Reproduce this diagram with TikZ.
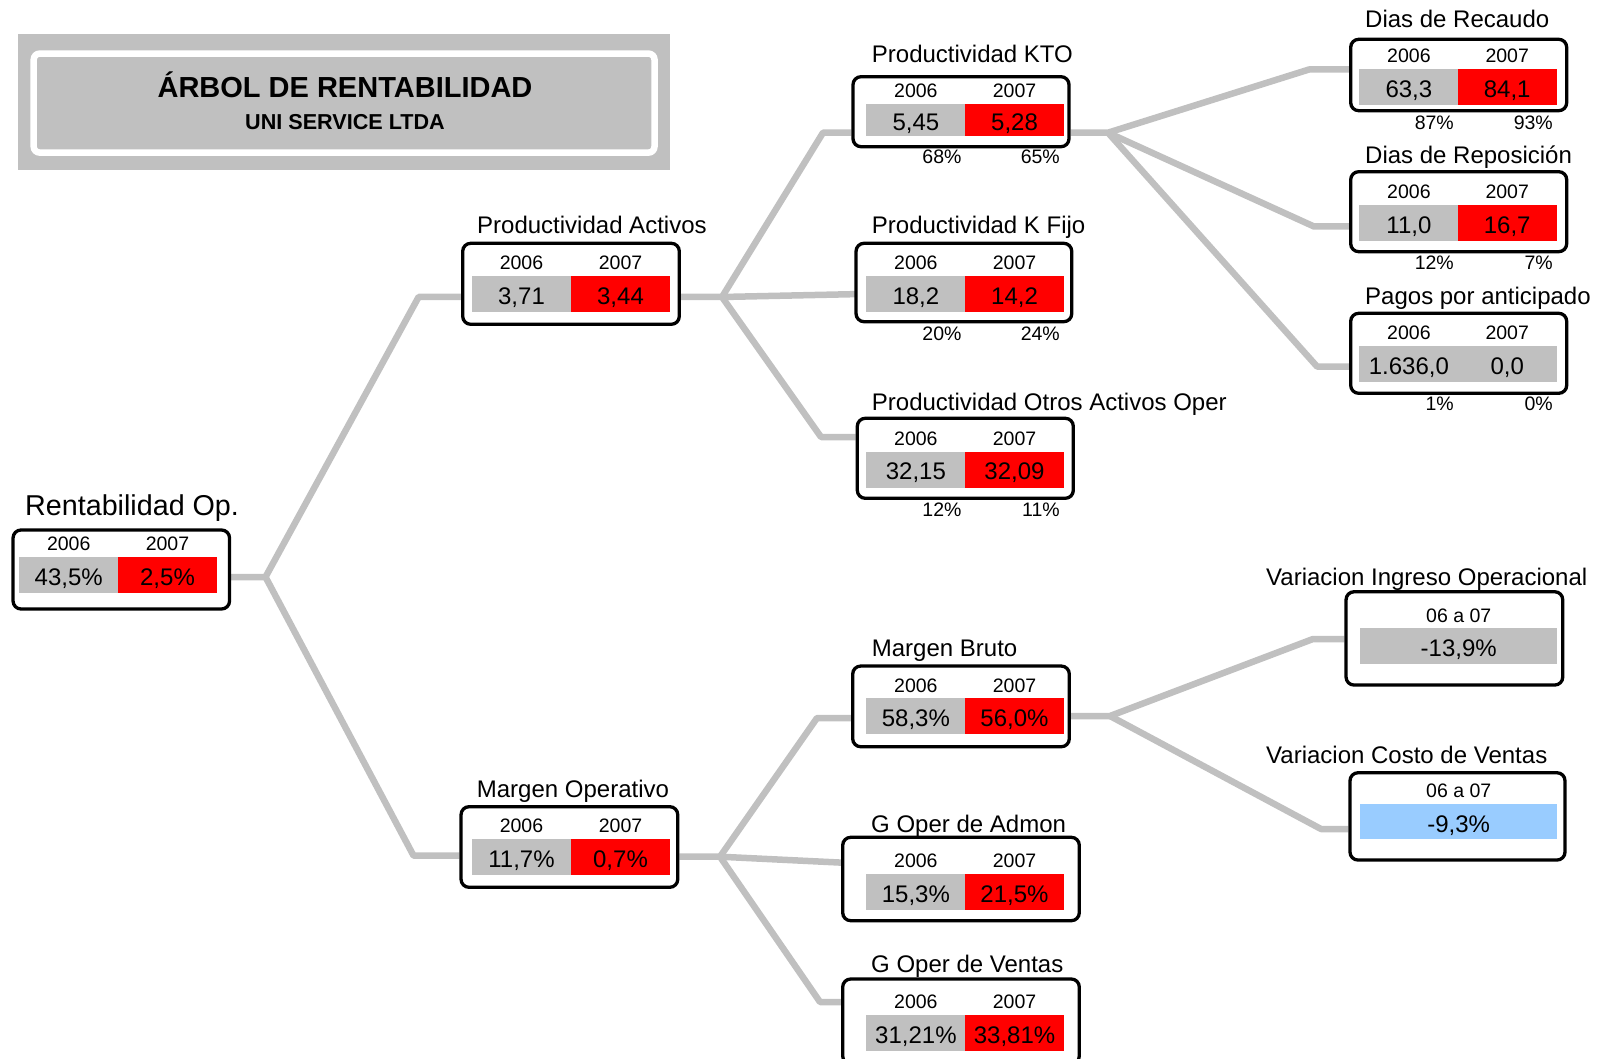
\documentclass[tikz,border=0pt]{standalone}
\usepackage{fontspec}
\setmainfont{Liberation Sans}
\usepackage{tikz}
\usetikzlibrary{positioning, calc, backgrounds}

\definecolor{gris}{HTML}{C0C0C0}
\definecolor{rojo}{HTML}{FF0000}
\definecolor{azul}{HTML}{99CCFF}

\begin{document}
\begin{tikzpicture}[x=1pt, y=-1pt,
  caja/.style={draw, line width=3.3pt, rounded corners=8pt, fill=white, inner sep=0pt},
  celda/.style={inner sep=0pt, minimum height=36pt, minimum width=99pt, text height=20.6pt, text depth=0pt, font=\fontsize{24}{24}\selectfont},
  anio/.style={inner sep=0pt, yshift=13pt, text height=14pt, text depth=0pt, font=\fontsize{19.5}{19.5}\selectfont},
  pct/.style={inner sep=0pt, anchor=base east, font=\fontsize{19.5}{19.5}\selectfont},
  titulo/.style={inner sep=0pt, anchor=base west, font=\fontsize{24}{24}\selectfont},
  rama/.style={draw=gris, line width=6.5pt, line join=round}]
  \useasboundingbox (0,0) rectangle (1601,1059);
  % Encabezado
  \fill[gris] (18.4,33.7) rectangle (670,170.5);
  \draw[white, line width=6.5pt, rounded corners=6pt] (33.7,53.6) rectangle (654.5,152.6);
  \node[font=\bfseries\fontsize{29}{29}\selectfont, anchor=base, inner sep=0pt] (arbol) at (345,97.2) {ÁRBOL DE RENTABILIDAD};
  \node[font=\bfseries\fontsize{21.6}{21.6}\selectfont, anchor=base, inner sep=0pt] (empresa) at (345,129.2) {UNI SERVICE LTDA};
  % Rentabilidad operacional (raiz)
  \node[titulo, font=\fontsize{28.7}{28.7}\selectfont] (ro-t) at (25,515) {Rentabilidad Op.};
  \node[caja, minimum width=216.5pt, minimum height=79pt] (ro) at (121.3,569.5) {};
  \node[celda, fill=gris] (ro-a) at (68.7,574.7) {43,5\%};
  \node[celda, fill=rojo] (ro-b) at (167.5,574.7) {2,5\%};
  \node[anio] (ro-a0) at (ro-a.north) {2006};
  \node[anio] (ro-b0) at (ro-b.north) {2007};
  % Productividad activos
  \node[titulo] (pa-t) at (477,233.5) {Productividad Activos};
  \node[caja, minimum width=216.6pt, minimum height=81pt] (pa) at (571,283.8) {};
  \node[celda, fill=gris] (pa-a) at (521.5,293.9) {3,71};
  \node[celda, fill=rojo] (pa-b) at (620.5,293.9) {3,44};
  \node[anio] (pa-a0) at (pa-a.north) {2006};
  \node[anio] (pa-b0) at (pa-b.north) {2007};
  % Margen operativo
  \node[titulo] (mo-t) at (476.7,797.9) {Margen Operativo};
  \node[caja, minimum width=216.7pt, minimum height=80.6pt] (mo) at (569.4,847) {};
  \node[celda, fill=gris] (mo-a) at (521.5,857) {11,7\%};
  \node[celda, fill=rojo] (mo-b) at (620.5,857) {0,7\%};
  \node[anio] (mo-a0) at (mo-a.north) {2006};
  \node[anio] (mo-b0) at (mo-b.north) {2007};
  % Productividad KTO
  \node[titulo] (kto-t) at (871.7,62.6) {Productividad KTO};
  \node[caja, minimum width=216pt, minimum height=70pt] (kto) at (961,111.7) {};
  \node[celda, fill=gris, minimum height=32pt] (kto-a) at (915.9,120) {5,45};
  \node[celda, fill=rojo, minimum height=32pt] (kto-b) at (1014.5,120) {5,28};
  \node[anio] (kto-a0) at (kto-a.north) {2006};
  \node[anio] (kto-b0) at (kto-b.north) {2007};
  \node[pct] (kto-p1) at (961.7,163.7) {68\%};
  \node[pct] (kto-p2) at (1060,163.7) {65\%};
  % Productividad K fijo
  \node[titulo] (kf-t) at (871.7,233.6) {Productividad K Fijo};
  \node[caja, minimum width=215.7pt, minimum height=78.4pt] (kf) at (963.9,282.5) {};
  \node[celda, fill=gris] (kf-a) at (915.9,293.9) {18,2};
  \node[celda, fill=rojo] (kf-b) at (1014.5,293.9) {14,2};
  \node[anio] (kf-a0) at (kf-a.north) {2006};
  \node[anio] (kf-b0) at (kf-b.north) {2007};
  \node[pct] (kf-p1) at (961.7,340.3) {20\%};
  \node[pct] (kf-p2) at (1060,340.3) {24\%};
  % Productividad otros activos
  \node[titulo] (oa-t) at (871.7,410.3) {Productividad Otros Activos Oper};
  \node[caja, minimum width=216pt, minimum height=80pt] (oa) at (965.3,458.3) {};
  \node[celda, fill=gris] (oa-a) at (915.9,469.5) {32,15};
  \node[celda, fill=rojo] (oa-b) at (1014.5,469.5) {32,09};
  \node[anio] (oa-a0) at (oa-a.north) {2006};
  \node[anio] (oa-b0) at (oa-b.north) {2007};
  \node[pct] (oa-p1) at (961.7,516) {12\%};
  \node[pct] (oa-p2) at (1060,516) {11\%};
  % Margen bruto
  \node[titulo] (mb-t) at (871.7,656.9) {Margen Bruto};
  \node[caja, minimum width=216.6pt, minimum height=80.7pt] (mb) at (961,706.4) {};
  \node[celda, fill=gris] (mb-a) at (915.9,716.2) {58,3\%};
  \node[celda, fill=rojo] (mb-b) at (1014.5,716.2) {56,0\%};
  \node[anio] (mb-a0) at (mb-a.north) {2006};
  \node[anio] (mb-b0) at (mb-b.north) {2007};
  % Gastos operacionales de administracion
  \node[titulo] (ga-t) at (871,832.6) {G Oper de Admon};
  \node[caja, minimum width=236.6pt, minimum height=83.4pt] (ga) at (961,879) {};
  \node[celda, fill=gris] (ga-a) at (915.9,892) {15,3\%};
  \node[celda, fill=rojo] (ga-b) at (1014.5,892) {21,5\%};
  \node[anio] (ga-a0) at (ga-a.north) {2006};
  \node[anio] (ga-b0) at (ga-b.north) {2007};
  % Gastos operacionales de ventas
  \node[titulo] (gv-t) at (871,972.6) {G Oper de Ventas};
  \node[caja, minimum width=236.6pt, minimum height=85pt] (gv) at (961,1021.5) {};
  \node[celda, fill=gris] (gv-a) at (915.9,1032.9) {31,21\%};
  \node[celda, fill=rojo] (gv-b) at (1014.5,1032.9) {33,81\%};
  \node[anio] (gv-a0) at (gv-a.north) {2006};
  \node[anio] (gv-b0) at (gv-b.north) {2007};
  % Dias de recaudo
  \node[titulo] (dr-t) at (1365,27.9) {Dias de Recaudo};
  \node[caja, minimum width=216pt, minimum height=71.4pt] (dr) at (1458.7,75) {};
  \node[celda, fill=gris] (dr-a) at (1408.9,87) {63,3};
  \node[celda, fill=rojo] (dr-b) at (1507.2,87) {84,1};
  \node[anio] (dr-a0) at (dr-a.north) {2006};
  \node[anio] (dr-b0) at (dr-b.north) {2007};
  \node[pct] (dr-p1) at (1454,130) {87\%};
  \node[pct] (dr-p2) at (1553,130) {93\%};
  % Dias de reposicion
  \node[titulo] (dp-t) at (1365,163.6) {Dias de Reposición};
  \node[caja, minimum width=216pt, minimum height=80pt] (dp) at (1458.7,211.7) {};
  \node[celda, fill=gris] (dp-a) at (1408.9,222.9) {11,0};
  \node[celda, fill=rojo] (dp-b) at (1507.2,222.9) {16,7};
  \node[anio] (dp-a0) at (dp-a.north) {2006};
  \node[anio] (dp-b0) at (dp-b.north) {2007};
  \node[pct] (dp-p1) at (1454,269.5) {12\%};
  \node[pct] (dp-p2) at (1553,269.5) {7\%};
  % Pagos por anticipado
  \node[titulo] (pg-t) at (1365,304.6) {Pagos por anticipado};
  \node[caja, minimum width=216pt, minimum height=80pt] (pg) at (1458.7,353.3) {};
  \node[celda, fill=gris] (pg-a) at (1408.9,363.9) {1.636,0};
  \node[celda, fill=gris] (pg-b) at (1507.2,363.9) {0,0};
  \node[anio] (pg-a0) at (pg-a.north) {2006};
  \node[anio] (pg-b0) at (pg-b.north) {2007};
  \node[pct] (pg-p1) at (1454,410) {1\%};
  \node[pct] (pg-p2) at (1553,410) {0\%};
  % Variacion ingreso operacional
  \node[titulo] (vi-t) at (1266,585.3) {Variacion Ingreso Operacional};
  \node[caja, minimum width=216.7pt, minimum height=93.3pt] (vi) at (1454.4,638.4) {};
  \node[celda, fill=gris, minimum width=197.3pt] (vi-a) at (1458.7,646.2) {-13,9\%};
  \node[anio] (vi-a0) at (vi-a.north) {06 a 07};
  % Variacion costo de ventas
  \node[titulo] (vc-t) at (1266,763.2) {Variacion Costo de Ventas};
  \node[caja, minimum width=215pt, minimum height=87.3pt] (vc) at (1457.5,816.4) {};
  \node[celda, fill=azul, minimum width=197.3pt, minimum height=35.3pt] (vc-a) at (1458.7,821.7) {-9,3\%};
  \node[anio] (vc-a0) at (vc-a.north) {06 a 07};
  % Ramas del arbol (detras de las cajas)
  \begin{scope}[on background layer]
    \coordinate (j0) at (265.5,577);
    \coordinate (c1) at (418.6,297);
    \coordinate (c2) at (413.5,855.6);
    \coordinate (j1) at (722,297);
    \coordinate (c3) at (823,132.7);
    \coordinate (c4) at (821,437);
    \coordinate (j2) at (720,856.7);
    \coordinate (c5) at (817,718);
    \coordinate (e-ga) at (843,862.7);
    \coordinate (c6) at (820,1002);
    \coordinate (j3) at (1108,132.7);
    \coordinate (c7) at (1309,69.5);
    \coordinate (c8) at (1314,226.5);
    \coordinate (c9) at (1317,366.5);
    \coordinate (j4) at (1110,716);
    \coordinate (c10) at (1313,639);
    \coordinate (c11) at (1321,829);
    \draw[rama] (ro.east |- j0) -- (j0) -- (c1) -- (c1 -| pa.west);
    \draw[rama] (j0) -- (c2) -- (c2 -| mo.west);
    \draw[rama] (pa.east |- j1) -- (j1) -- (c3) -- (c3 -| kto.west);
    \draw[rama] (j1) -- (kf-a.west);
    \draw[rama] (j1) -- (c4) -- (c4 -| oa.west);
    \draw[rama] (mo.east |- j2) -- (j2) -- (c5) -- (c5 -| mb.west);
    \draw[rama] (j2) -- (e-ga);
    \draw[rama] (j2) -- (c6) -- (c6 -| gv.west);
    \draw[rama] (kto.east |- j3) -- (j3) -- (c7) -- (c7 -| dr.west);
    \draw[rama] (j3) -- (c8) -- (c8 -| dp.west);
    \draw[rama] (j3) -- (c9) -- (c9 -| pg.west);
    \draw[rama] (mb.east |- j4) -- (j4) -- (c10) -- (c10 -| vi.west);
    \draw[rama] (j4) -- (c11) -- (c11 -| vc.west);
  \end{scope}
\end{tikzpicture}
\end{document}
